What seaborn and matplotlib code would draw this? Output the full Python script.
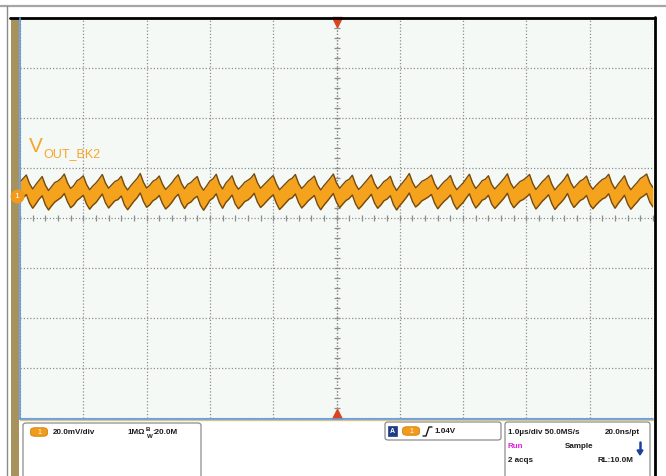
import numpy as np
import pandas as pd
import matplotlib
matplotlib.use("Agg")
import matplotlib.pyplot as plt
import seaborn as sns
from matplotlib.patches import Rectangle, FancyBboxPatch, Polygon, Ellipse
from matplotlib.lines import Line2D

# ---------------- data ----------------
t_start_us = 0.0
t_step_us = 0.05
upper_mv = [14.5, 15.8, 17.2, 13.8, 11.6, 13.4, 15.0, 16.6, 13.2, 11.0,
            12.6, 14.2, 14.8, 15.9, 17.6, 14.1, 11.8, 13.0, 14.9, 15.7,
            16.9, 13.5, 11.3, 12.8, 14.0, 15.6, 17.4, 14.0, 11.9, 13.3,
            14.6, 15.2, 16.7, 13.1, 11.2, 12.9, 14.4, 15.8, 17.8, 14.3,
            12.0, 13.1, 14.7, 15.4, 16.8, 13.6, 11.4, 12.7, 14.1, 15.9,
            17.3, 13.9, 11.7, 13.5, 14.2, 15.5, 16.6, 13.0, 11.1, 12.9,
            14.8, 15.7, 17.5, 13.8, 11.6, 13.9, 15.3, 16.9, 13.4, 11.5,
            12.8, 14.3, 15.1, 16.0, 17.7, 14.2, 11.9, 13.2, 14.5, 15.8,
            17.0, 13.7, 11.3, 12.6, 13.9, 15.2, 15.9, 17.4, 13.9, 11.8,
            13.1, 14.6, 15.6, 16.8, 13.3, 11.2, 12.9, 14.4, 15.9, 17.6,
            14.0, 11.9, 13.4, 14.8, 15.5, 17.1, 13.6, 11.4, 12.7, 14.2,
            15.7, 17.3, 13.8, 11.7, 13.0, 14.6, 15.4, 16.7, 13.2, 11.0,
            12.8, 14.3, 15.9, 17.8, 14.4, 12.1, 13.3, 14.7, 15.3, 16.1,
            17.2, 13.7, 11.5, 13.1, 14.5, 15.6, 17.0, 13.5, 11.3, 12.7,
            14.0, 15.8, 17.5, 14.1, 11.8, 13.2, 14.9, 15.5, 16.9, 13.4,
            11.6, 13.0, 14.4, 15.9, 17.7, 14.0, 11.9, 13.3, 14.6, 15.2,
            16.2, 17.4, 13.8, 11.4, 12.9, 14.5, 15.7, 17.1, 13.6, 11.2,
            12.8, 14.1, 15.6, 17.6, 14.2, 12.0, 13.4, 14.8, 15.5, 16.8,
            13.3, 11.5, 13.0, 14.3, 15.4, 16.0, 17.5, 13.9, 11.7, 13.6,
            15.2, 16.9, 13.4, 11.3, 12.8, 14.2, 15.8, 16.6, 17.6, 14.1,
            12.2]
lower_mv = [6.8, 8.1, 9.4, 6.0, 3.9, 5.6, 7.5, 8.9, 5.3, 3.2,
            4.9, 6.4, 7.3, 8.2, 9.8, 6.5, 4.1, 5.2, 7.0, 8.0,
            9.1, 5.6, 3.5, 5.1, 6.2, 7.9, 9.6, 6.1, 4.0, 5.5,
            6.9, 7.4, 8.8, 5.2, 3.3, 5.0, 6.7, 8.1, 10.0, 6.6,
            4.3, 5.3, 6.9, 7.7, 9.0, 5.8, 3.6, 4.8, 6.3, 8.2,
            9.5, 6.0, 3.8, 5.7, 6.4, 7.8, 8.7, 5.1, 3.1, 5.0,
            7.1, 8.0, 9.7, 6.1, 3.9, 6.2, 7.5, 9.2, 5.6, 3.7,
            5.0, 6.6, 7.2, 8.3, 9.9, 6.4, 4.2, 5.4, 6.8, 8.1,
            9.3, 5.9, 3.4, 4.7, 6.1, 7.5, 8.1, 9.6, 6.2, 4.0,
            5.3, 6.8, 7.9, 9.0, 5.4, 3.3, 5.1, 6.6, 8.2, 9.8,
            6.3, 4.1, 5.6, 7.0, 7.8, 9.2, 5.7, 3.6, 4.9, 6.5,
            7.9, 9.5, 6.0, 3.9, 5.2, 6.9, 7.6, 8.9, 5.3, 3.2,
            5.0, 6.5, 8.1, 10.0, 6.6, 4.4, 5.5, 6.9, 7.6, 8.4,
            9.4, 5.9, 3.7, 5.3, 6.7, 7.8, 9.2, 5.7, 3.5, 4.9,
            6.2, 8.0, 9.7, 6.3, 4.0, 5.4, 7.1, 7.7, 9.1, 5.6,
            3.8, 5.2, 6.6, 8.1, 9.9, 6.2, 4.1, 5.5, 6.8, 7.4,
            8.4, 9.6, 6.0, 3.6, 5.1, 6.7, 7.9, 9.3, 5.8, 3.4,
            5.0, 6.3, 7.8, 9.8, 6.4, 4.2, 5.6, 7.0, 7.7, 9.0,
            5.5, 3.7, 5.2, 6.5, 7.6, 8.2, 9.7, 6.1, 3.9, 5.8,
            7.4, 9.1, 5.6, 3.5, 5.0, 6.4, 8.0, 8.8, 9.8, 6.3,
            4.4]
time_per_div_us = 1.0
volt_per_div_mv = 20.0
n_hdiv = 10
n_vdiv = 8
trigger_time_us = 5.0
ch1_ref_mv = 8.8
trace_label_main = "V"
trace_label_sub = "OUT_BK2"
ch_scale_text = "20.0mV/div"
ch_imp_text = "1M\u03a9"
ch_bw_text = ":20.0M"
trig_level_text = "1.04V"
timebase_text = "1.0\u00b5s/div 50.0MS/s"
res_text = "20.0ns/pt"
run_text = "Run"
mode_text = "Sample"
acqs_text = "2 acqs"
rl_text = "RL:10.0M"

# ---------------- figure ----------------
sns.set_style("white")
plt.rcParams['font.family'] = ['Liberation Sans', 'DejaVu Sans']

W, H = 666, 477
fig = plt.figure(figsize=(W / 100, H / 100), dpi=100)
fig.patch.set_facecolor("white")

def fx(px):
    return px / W

def fy(py):
    return 1 - py / H

tf = fig.transFigure

# outer frame lines
fig.add_artist(Line2D([0, 1], [fy(7), fy(7)], transform=tf, color="#a6a6a6", lw=1.6))
fig.add_artist(Line2D([fx(7), fx(7)], [fy(7), 0], transform=tf, color="#8a8a8a", lw=1.0))
fig.add_artist(Rectangle((fx(11), 0), fx(8), fy(19), transform=tf,
                         facecolor="#a8925c", edgecolor="none"))
fig.add_artist(Line2D([fx(10), fx(655)], [fy(18.5), fy(18.5)], transform=tf, color="black", lw=2.0))
fig.add_artist(Line2D([fx(654.5), fx(654.5)], [fy(18), 0], transform=tf, color="black", lw=2.0))

# graticule axes
x0, x1, y0, y1 = 20, 653, 19, 419
ax = fig.add_axes([fx(x0), fy(y1), fx(x1 - x0), (y1 - y0) / H])
ax.set_facecolor("#f5f9f5")

t_end = time_per_div_us * n_hdiv
vmax = volt_per_div_mv * n_vdiv / 2
ax.set_xlim(0, t_end)
ax.set_ylim(-vmax, vmax)
ax.set_xticks(np.arange(0, t_end + 1e-9, time_per_div_us))
ax.set_yticks(np.arange(-vmax, vmax + 1e-9, volt_per_div_mv))
ax.tick_params(length=0, labelbottom=False, labelleft=False)
ax.grid(True, color="#8e8e8e", linestyle=(0, (1, 1.6)), lw=0.9)
for s in ax.spines.values():
    s.set_visible(False)

# center cross minor ticks
cx = trigger_time_us
ax.plot(np.arange(0, t_end + 1e-9, time_per_div_us / 5), np.zeros(n_hdiv * 5 + 1),
        ls="none", marker="|", ms=5, mew=0.9, color="#8e8e8e")
ax.plot(np.full(n_vdiv * 5 + 1, cx), np.arange(-vmax, vmax + 1e-9, volt_per_div_mv / 5),
        ls="none", marker="_", ms=5, mew=0.9, color="#8e8e8e")
ax.axvline(cx, color="#8e8e8e", linestyle=(0, (1, 1.6)), lw=0.9)

# trace
t = t_start_us + t_step_us * np.arange(len(upper_mv))
df = pd.DataFrame({"t": t, "upper": upper_mv, "lower": lower_mv})
ax.fill_between(df["t"], df["lower"], df["upper"], color="#f5a21c", lw=0, zorder=3)
sns.lineplot(data=df, x="t", y="upper", ax=ax, color="#744a10", lw=1.0, zorder=4)
sns.lineplot(data=df, x="t", y="lower", ax=ax, color="#744a10", lw=1.0, zorder=4)
ax.set_xlabel("")
ax.set_ylabel("")

# trigger position triangles
ax.plot([cx], [vmax - 1.6], marker="v", ms=7, color="#d9451e", clip_on=False, zorder=6)
ax.plot([cx], [-vmax + 1.8], marker="^", ms=7, color="#d9451e", clip_on=False, zorder=6)

# trace label
fig.text(fx(29), fy(152), trace_label_main, color="#f7a52a", fontsize=15, ha="left", va="baseline")
fig.text(fx(43), fy(157.5), trace_label_sub, color="#f7a52a", fontsize=9.0, ha="left", va="baseline")

# graticule borders: blue left/bottom, tan bottom
fig.add_artist(Line2D([fx(19.5), fx(19.5)], [fy(19), fy(420)], transform=tf, color="#5b95e0", lw=1.2))
fig.add_artist(Line2D([fx(19.5), fx(653)], [fy(419.5), fy(419.5)], transform=tf, color="#5b95e0", lw=1.3))
fig.add_artist(Line2D([fx(19.5), fx(653)], [fy(421), fy(421)], transform=tf, color="#d8c48a", lw=1.0))

# channel 1 ground marker (on the left edge, above the frame)
ref_px = ax.transData.transform((0, ch1_ref_mv))
ref_fig = fig.transFigure.inverted().transform(ref_px)
mk = Line2D([fx(17)], [ref_fig[1]], transform=tf, marker="o", ms=9, color="#f29a1a", ls="none")
mk.set_zorder(10)
fig.add_artist(mk)
fig.text(fx(17), ref_fig[1], "1", color="white", fontsize=6, ha="center", va="center", zorder=11)

# ---------------- bottom info panel ----------------
def rbox(xa, ya, xb, yb):
    fig.add_artist(FancyBboxPatch((fx(xa), fy(yb)), fx(xb - xa), (yb - ya) / H,
                                  boxstyle="round,pad=0,rounding_size=0.005",
                                  transform=tf, facecolor="white", edgecolor="#8c8c8c", lw=0.9))

def pill(xc, yc, w=17, h=8.5):
    fig.add_artist(FancyBboxPatch((fx(xc - w / 2), fy(yc + h / 2)), fx(w), h / H,
                                  boxstyle="round,pad=0,rounding_size=0.0065",
                                  transform=tf, facecolor="#f29a1a", edgecolor="#d07f10", lw=0.6))
    fig.text(fx(xc), fy(yc), "1", color="white", fontsize=5, ha="center", va="center")

txt = dict(fontsize=5.8, fontweight="bold", color="#1a1a1a", va="center")

rbox(23, 424, 201, 485)
pill(39, 433)
fig.text(fx(53), fy(433), ch_scale_text, ha="left", **txt)
fig.text(fx(127), fy(433), ch_imp_text, ha="left", **txt)
fig.text(fx(146), fy(430), "B", ha="left", fontsize=4.4, fontweight="bold", color="#1a1a1a", va="center")
fig.text(fx(147), fy(437), "W", ha="left", fontsize=4.4, fontweight="bold", color="#1a1a1a", va="center")
fig.text(fx(152), fy(433), ch_bw_text, ha="left", **txt)

rbox(385, 423, 501, 441)
fig.add_artist(Rectangle((fx(388), fy(437)), fx(9), 10 / H, transform=tf,
                         facecolor="#1c3c86", edgecolor="#1c3c86", lw=0.5))
fig.text(fx(392.5), fy(432), "A", color="white", fontsize=5, fontweight="bold", ha="center", va="center")
pill(411, 432)
fig.add_artist(Line2D([fx(423), fx(426), fx(429), fx(432)], [fy(437), fy(437), fy(428), fy(428)],
                      transform=tf, color="#1a1a1a", lw=1.0))
fig.text(fx(434), fy(432), trig_level_text, ha="left", **txt)

rbox(505, 423, 650, 485)
fig.text(fx(508), fy(433), timebase_text, ha="left", **txt)
fig.text(fx(640), fy(433), res_text, ha="right", **txt)
fig.text(fx(508), fy(447), run_text, ha="left", fontsize=5.8, fontweight="bold", color="#e020e0", va="center")
fig.text(fx(565), fy(447), mode_text, ha="left", **txt)
fig.add_artist(Line2D([fx(640), fx(640)], [fy(443), fy(452)], transform=tf, color="#1a3fa0", lw=1.8))
fig.add_artist(Polygon([(fx(637), fy(451)), (fx(643), fy(451)), (fx(640), fy(456))], closed=True,
                       transform=tf, facecolor="#1a3fa0", edgecolor="#1a3fa0"))
fig.text(fx(508), fy(461), acqs_text, ha="left", **txt)
fig.text(fx(598), fy(461), rl_text, ha="left", **txt)

fig.savefig("out.png", dpi=100, facecolor="white")
